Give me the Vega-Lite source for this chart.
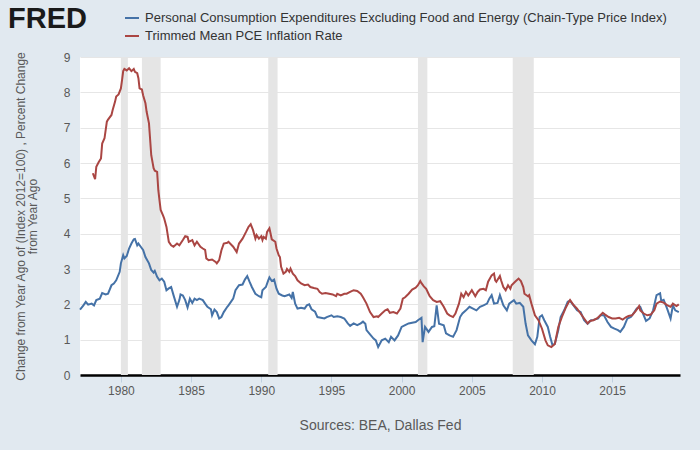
{
"$schema": "https://vega.github.io/schema/vega-lite/v6.json",
"width": 600, "height": 318,
"autosize": {"type": "none"},
"padding": {"left": 80, "top": 57, "right": 20, "bottom": 75},
"background": "#e1e9f0",
"config": {"view": {"fill": "#ffffff", "stroke": null}, "font": "Liberation Sans"},
"title": {"text": "FRED", "anchor": "start", "frame": "group", "orient": "top", "dx": -72, "dy": 74, "offset": 27, "baseline": "alphabetic", "fontSize": 29, "fontWeight": "bold", "font": "Liberation Sans", "color": "#1a1a1a"},
"datasets": {
"rec": [
{"date": "1980-01-01", "end": "1980-07-01"},
{"date": "1981-07-01", "end": "1982-11-01"},
{"date": "1990-07-01", "end": "1991-03-01"},
{"date": "2001-03-01", "end": "2001-11-01"},
{"date": "2007-12-01", "end": "2009-06-01"}
],
"pce": [
{"date":"1977-02-01","series":"core","value":1.85},
{"date":"1977-05-01","series":"core","value":1.97},
{"date":"1977-07-01","series":"core","value":2.07},
{"date":"1977-09-01","series":"core","value":1.99},
{"date":"1977-12-01","series":"core","value":2.02},
{"date":"1978-02-01","series":"core","value":1.97},
{"date":"1978-04-01","series":"core","value":2.12},
{"date":"1978-07-01","series":"core","value":2.16},
{"date":"1978-09-01","series":"core","value":2.32},
{"date":"1978-12-01","series":"core","value":2.28},
{"date":"1979-02-01","series":"core","value":2.30},
{"date":"1979-05-01","series":"core","value":2.54},
{"date":"1979-07-01","series":"core","value":2.59},
{"date":"1979-09-01","series":"core","value":2.68},
{"date":"1979-12-01","series":"core","value":2.92},
{"date":"1980-01-01","series":"core","value":3.16},
{"date":"1980-03-01","series":"core","value":3.39},
{"date":"1980-04-01","series":"core","value":3.30},
{"date":"1980-06-01","series":"core","value":3.37},
{"date":"1980-08-01","series":"core","value":3.58},
{"date":"1980-10-01","series":"core","value":3.72},
{"date":"1980-12-01","series":"core","value":3.84},
{"date":"1981-01-01","series":"core","value":3.85},
{"date":"1981-03-01","series":"core","value":3.67},
{"date":"1981-04-01","series":"core","value":3.72},
{"date":"1981-06-01","series":"core","value":3.63},
{"date":"1981-08-01","series":"core","value":3.54},
{"date":"1981-10-01","series":"core","value":3.34},
{"date":"1982-01-01","series":"core","value":3.16},
{"date":"1982-03-01","series":"core","value":2.97},
{"date":"1982-05-01","series":"core","value":2.90},
{"date":"1982-06-01","series":"core","value":2.95},
{"date":"1982-08-01","series":"core","value":2.78},
{"date":"1982-10-01","series":"core","value":2.68},
{"date":"1982-12-01","series":"core","value":2.73},
{"date":"1983-02-01","series":"core","value":2.64},
{"date":"1983-04-01","series":"core","value":2.40},
{"date":"1983-06-01","series":"core","value":2.45},
{"date":"1983-08-01","series":"core","value":2.49},
{"date":"1983-10-01","series":"core","value":2.26},
{"date":"1984-01-01","series":"core","value":1.93},
{"date":"1984-03-01","series":"core","value":2.12},
{"date":"1984-04-01","series":"core","value":2.28},
{"date":"1984-06-01","series":"core","value":2.25},
{"date":"1984-08-01","series":"core","value":2.12},
{"date":"1984-10-01","series":"core","value":1.91},
{"date":"1984-12-01","series":"core","value":2.16},
{"date":"1985-02-01","series":"core","value":2.04},
{"date":"1985-04-01","series":"core","value":2.16},
{"date":"1985-06-01","series":"core","value":2.12},
{"date":"1985-08-01","series":"core","value":2.16},
{"date":"1985-11-01","series":"core","value":2.12},
{"date":"1986-01-01","series":"core","value":2.02},
{"date":"1986-03-01","series":"core","value":1.93},
{"date":"1986-06-01","series":"core","value":1.86},
{"date":"1986-07-01","series":"core","value":1.69},
{"date":"1986-09-01","series":"core","value":1.85},
{"date":"1986-11-01","series":"core","value":1.78},
{"date":"1987-01-01","series":"core","value":1.60},
{"date":"1987-03-01","series":"core","value":1.64},
{"date":"1987-05-01","series":"core","value":1.78},
{"date":"1987-08-01","series":"core","value":1.93},
{"date":"1987-09-01","series":"core","value":1.97},
{"date":"1988-01-01","series":"core","value":2.16},
{"date":"1988-03-01","series":"core","value":2.40},
{"date":"1988-06-01","series":"core","value":2.54},
{"date":"1988-09-01","series":"core","value":2.56},
{"date":"1988-11-01","series":"core","value":2.70},
{"date":"1989-01-01","series":"core","value":2.80},
{"date":"1989-03-01","series":"core","value":2.64},
{"date":"1989-05-01","series":"core","value":2.49},
{"date":"1989-08-01","series":"core","value":2.30},
{"date":"1989-11-01","series":"core","value":2.23},
{"date":"1990-01-01","series":"core","value":2.20},
{"date":"1990-02-01","series":"core","value":2.40},
{"date":"1990-05-01","series":"core","value":2.49},
{"date":"1990-07-01","series":"core","value":2.68},
{"date":"1990-08-01","series":"core","value":2.76},
{"date":"1990-10-01","series":"core","value":2.66},
{"date":"1990-12-01","series":"core","value":2.70},
{"date":"1991-02-01","series":"core","value":2.44},
{"date":"1991-04-01","series":"core","value":2.30},
{"date":"1991-07-01","series":"core","value":2.25},
{"date":"1991-09-01","series":"core","value":2.23},
{"date":"1992-01-01","series":"core","value":2.28},
{"date":"1992-03-01","series":"core","value":2.18},
{"date":"1992-04-01","series":"core","value":2.35},
{"date":"1992-06-01","series":"core","value":2.02},
{"date":"1992-08-01","series":"core","value":1.88},
{"date":"1992-11-01","series":"core","value":1.90},
{"date":"1993-02-01","series":"core","value":1.88},
{"date":"1993-04-01","series":"core","value":1.97},
{"date":"1993-06-01","series":"core","value":2.00},
{"date":"1993-08-01","series":"core","value":1.86},
{"date":"1993-11-01","series":"core","value":1.79},
{"date":"1994-01-01","series":"core","value":1.64},
{"date":"1994-04-01","series":"core","value":1.62},
{"date":"1994-07-01","series":"core","value":1.60},
{"date":"1994-09-01","series":"core","value":1.64},
{"date":"1995-01-01","series":"core","value":1.69},
{"date":"1995-03-01","series":"core","value":1.64},
{"date":"1995-06-01","series":"core","value":1.66},
{"date":"1995-09-01","series":"core","value":1.64},
{"date":"1995-12-01","series":"core","value":1.60},
{"date":"1996-03-01","series":"core","value":1.46},
{"date":"1996-05-01","series":"core","value":1.39},
{"date":"1996-08-01","series":"core","value":1.46},
{"date":"1996-11-01","series":"core","value":1.41},
{"date":"1997-02-01","series":"core","value":1.46},
{"date":"1997-04-01","series":"core","value":1.51},
{"date":"1997-06-01","series":"core","value":1.45},
{"date":"1997-07-01","series":"core","value":1.27},
{"date":"1997-10-01","series":"core","value":1.15},
{"date":"1998-01-01","series":"core","value":1.03},
{"date":"1998-03-01","series":"core","value":0.98},
{"date":"1998-05-01","series":"core","value":0.79},
{"date":"1998-08-01","series":"core","value":0.98},
{"date":"1998-11-01","series":"core","value":1.03},
{"date":"1999-02-01","series":"core","value":0.93},
{"date":"1999-04-01","series":"core","value":1.08},
{"date":"1999-07-01","series":"core","value":0.98},
{"date":"1999-10-01","series":"core","value":1.12},
{"date":"2000-01-01","series":"core","value":1.36},
{"date":"2000-04-01","series":"core","value":1.41},
{"date":"2000-07-01","series":"core","value":1.46},
{"date":"2000-10-01","series":"core","value":1.48},
{"date":"2001-01-01","series":"core","value":1.50},
{"date":"2001-03-01","series":"core","value":1.55},
{"date":"2001-06-01","series":"core","value":1.62},
{"date":"2001-07-01","series":"core","value":0.93},
{"date":"2001-09-01","series":"core","value":1.36},
{"date":"2001-12-01","series":"core","value":1.22},
{"date":"2002-03-01","series":"core","value":1.36},
{"date":"2002-05-01","series":"core","value":1.38},
{"date":"2002-07-01","series":"core","value":1.97},
{"date":"2002-09-01","series":"core","value":1.45},
{"date":"2003-01-01","series":"core","value":1.41},
{"date":"2003-03-01","series":"core","value":1.18},
{"date":"2003-06-01","series":"core","value":1.12},
{"date":"2003-09-01","series":"core","value":1.08},
{"date":"2003-12-01","series":"core","value":1.27},
{"date":"2004-03-01","series":"core","value":1.64},
{"date":"2004-05-01","series":"core","value":1.74},
{"date":"2004-08-01","series":"core","value":1.83},
{"date":"2004-11-01","series":"core","value":1.93},
{"date":"2005-02-01","series":"core","value":1.88},
{"date":"2005-05-01","series":"core","value":1.83},
{"date":"2005-08-01","series":"core","value":1.93},
{"date":"2005-11-01","series":"core","value":1.97},
{"date":"2006-02-01","series":"core","value":2.02},
{"date":"2006-04-01","series":"core","value":2.16},
{"date":"2006-06-01","series":"core","value":2.26},
{"date":"2006-08-01","series":"core","value":2.02},
{"date":"2006-11-01","series":"core","value":2.04},
{"date":"2007-01-01","series":"core","value":2.26},
{"date":"2007-04-01","series":"core","value":1.97},
{"date":"2007-07-01","series":"core","value":1.83},
{"date":"2007-09-01","series":"core","value":2.02},
{"date":"2008-01-01","series":"core","value":2.12},
{"date":"2008-03-01","series":"core","value":2.02},
{"date":"2008-06-01","series":"core","value":2.04},
{"date":"2008-09-01","series":"core","value":1.93},
{"date":"2008-11-01","series":"core","value":1.45},
{"date":"2009-01-01","series":"core","value":1.12},
{"date":"2009-04-01","series":"core","value":0.98},
{"date":"2009-07-01","series":"core","value":0.87},
{"date":"2009-09-01","series":"core","value":1.08},
{"date":"2009-11-01","series":"core","value":1.64},
{"date":"2010-01-01","series":"core","value":1.69},
{"date":"2010-03-01","series":"core","value":1.55},
{"date":"2010-06-01","series":"core","value":1.36},
{"date":"2010-08-01","series":"core","value":1.08},
{"date":"2010-10-01","series":"core","value":0.84},
{"date":"2010-12-01","series":"core","value":0.88},
{"date":"2011-03-01","series":"core","value":1.27},
{"date":"2011-05-01","series":"core","value":1.64},
{"date":"2011-08-01","series":"core","value":1.83},
{"date":"2011-11-01","series":"core","value":2.07},
{"date":"2012-01-01","series":"core","value":2.10},
{"date":"2012-04-01","series":"core","value":1.97},
{"date":"2012-07-01","series":"core","value":1.83},
{"date":"2012-10-01","series":"core","value":1.78},
{"date":"2013-01-01","series":"core","value":1.55},
{"date":"2013-04-01","series":"core","value":1.45},
{"date":"2013-07-01","series":"core","value":1.55},
{"date":"2013-09-01","series":"core","value":1.56},
{"date":"2014-01-01","series":"core","value":1.60},
{"date":"2014-03-01","series":"core","value":1.69},
{"date":"2014-06-01","series":"core","value":1.69},
{"date":"2014-09-01","series":"core","value":1.50},
{"date":"2014-12-01","series":"core","value":1.36},
{"date":"2015-03-01","series":"core","value":1.31},
{"date":"2015-06-01","series":"core","value":1.27},
{"date":"2015-08-01","series":"core","value":1.22},
{"date":"2015-11-01","series":"core","value":1.36},
{"date":"2016-02-01","series":"core","value":1.60},
{"date":"2016-05-01","series":"core","value":1.64},
{"date":"2016-08-01","series":"core","value":1.78},
{"date":"2016-10-01","series":"core","value":1.88},
{"date":"2017-01-01","series":"core","value":1.93},
{"date":"2017-04-01","series":"core","value":1.69},
{"date":"2017-06-01","series":"core","value":1.53},
{"date":"2017-09-01","series":"core","value":1.60},
{"date":"2017-12-01","series":"core","value":1.83},
{"date":"2018-03-01","series":"core","value":2.26},
{"date":"2018-06-01","series":"core","value":2.31},
{"date":"2018-07-01","series":"core","value":2.10},
{"date":"2018-09-01","series":"core","value":2.13},
{"date":"2018-12-01","series":"core","value":1.88},
{"date":"2019-03-01","series":"core","value":1.60},
{"date":"2019-05-01","series":"core","value":1.97},
{"date":"2019-07-01","series":"core","value":1.83},
{"date":"2019-10-01","series":"core","value":1.78},
{"date":"1978-01-01","series":"trim","value":5.71},
{"date":"1978-03-01","series":"trim","value":5.54},
{"date":"1978-04-01","series":"trim","value":5.89},
{"date":"1978-06-01","series":"trim","value":6.02},
{"date":"1978-08-01","series":"trim","value":6.13},
{"date":"1978-09-01","series":"trim","value":6.55},
{"date":"1978-11-01","series":"trim","value":6.70},
{"date":"1979-01-01","series":"trim","value":7.17},
{"date":"1979-02-01","series":"trim","value":7.23},
{"date":"1979-05-01","series":"trim","value":7.36},
{"date":"1979-06-01","series":"trim","value":7.50},
{"date":"1979-08-01","series":"trim","value":7.73},
{"date":"1979-09-01","series":"trim","value":7.88},
{"date":"1979-11-01","series":"trim","value":7.94},
{"date":"1980-01-01","series":"trim","value":8.11},
{"date":"1980-02-01","series":"trim","value":8.35},
{"date":"1980-03-01","series":"trim","value":8.60},
{"date":"1980-04-01","series":"trim","value":8.66},
{"date":"1980-06-01","series":"trim","value":8.62},
{"date":"1980-08-01","series":"trim","value":8.68},
{"date":"1980-10-01","series":"trim","value":8.60},
{"date":"1980-12-01","series":"trim","value":8.66},
{"date":"1981-01-01","series":"trim","value":8.58},
{"date":"1981-03-01","series":"trim","value":8.54},
{"date":"1981-04-01","series":"trim","value":8.40},
{"date":"1981-05-01","series":"trim","value":8.11},
{"date":"1981-07-01","series":"trim","value":8.08},
{"date":"1981-08-01","series":"trim","value":7.92},
{"date":"1981-10-01","series":"trim","value":7.69},
{"date":"1981-11-01","series":"trim","value":7.45},
{"date":"1982-01-01","series":"trim","value":7.12},
{"date":"1982-02-01","series":"trim","value":6.65},
{"date":"1982-03-01","series":"trim","value":6.22},
{"date":"1982-05-01","series":"trim","value":5.85},
{"date":"1982-06-01","series":"trim","value":5.78},
{"date":"1982-08-01","series":"trim","value":5.75},
{"date":"1982-09-01","series":"trim","value":5.23},
{"date":"1982-10-01","series":"trim","value":4.95},
{"date":"1982-11-01","series":"trim","value":4.67},
{"date":"1983-01-01","series":"trim","value":4.52},
{"date":"1983-02-01","series":"trim","value":4.43},
{"date":"1983-04-01","series":"trim","value":4.19},
{"date":"1983-06-01","series":"trim","value":3.77},
{"date":"1983-08-01","series":"trim","value":3.67},
{"date":"1983-10-01","series":"trim","value":3.63},
{"date":"1984-01-01","series":"trim","value":3.72},
{"date":"1984-03-01","series":"trim","value":3.67},
{"date":"1984-06-01","series":"trim","value":3.82},
{"date":"1984-08-01","series":"trim","value":3.93},
{"date":"1984-10-01","series":"trim","value":3.91},
{"date":"1984-11-01","series":"trim","value":3.77},
{"date":"1985-02-01","series":"trim","value":3.82},
{"date":"1985-04-01","series":"trim","value":3.67},
{"date":"1985-06-01","series":"trim","value":3.77},
{"date":"1985-09-01","series":"trim","value":3.63},
{"date":"1985-11-01","series":"trim","value":3.58},
{"date":"1986-01-01","series":"trim","value":3.54},
{"date":"1986-02-01","series":"trim","value":3.30},
{"date":"1986-04-01","series":"trim","value":3.25},
{"date":"1986-07-01","series":"trim","value":3.27},
{"date":"1986-10-01","series":"trim","value":3.20},
{"date":"1986-11-01","series":"trim","value":3.16},
{"date":"1987-01-01","series":"trim","value":3.25},
{"date":"1987-03-01","series":"trim","value":3.53},
{"date":"1987-05-01","series":"trim","value":3.72},
{"date":"1987-08-01","series":"trim","value":3.74},
{"date":"1987-09-01","series":"trim","value":3.77},
{"date":"1988-01-01","series":"trim","value":3.63},
{"date":"1988-04-01","series":"trim","value":3.48},
{"date":"1988-06-01","series":"trim","value":3.72},
{"date":"1988-09-01","series":"trim","value":3.86},
{"date":"1988-12-01","series":"trim","value":4.05},
{"date":"1989-02-01","series":"trim","value":4.19},
{"date":"1989-04-01","series":"trim","value":4.27},
{"date":"1989-06-01","series":"trim","value":4.10},
{"date":"1989-08-01","series":"trim","value":3.86},
{"date":"1989-09-01","series":"trim","value":3.96},
{"date":"1989-11-01","series":"trim","value":3.86},
{"date":"1990-01-01","series":"trim","value":3.93},
{"date":"1990-02-01","series":"trim","value":3.82},
{"date":"1990-03-01","series":"trim","value":3.91},
{"date":"1990-05-01","series":"trim","value":3.86},
{"date":"1990-06-01","series":"trim","value":4.05},
{"date":"1990-08-01","series":"trim","value":4.15},
{"date":"1990-09-01","series":"trim","value":4.00},
{"date":"1990-10-01","series":"trim","value":3.84},
{"date":"1991-01-01","series":"trim","value":3.77},
{"date":"1991-02-01","series":"trim","value":3.58},
{"date":"1991-04-01","series":"trim","value":3.39},
{"date":"1991-05-01","series":"trim","value":3.34},
{"date":"1991-06-01","series":"trim","value":3.06},
{"date":"1991-08-01","series":"trim","value":2.87},
{"date":"1991-10-01","series":"trim","value":2.92},
{"date":"1991-11-01","series":"trim","value":3.00},
{"date":"1992-01-01","series":"trim","value":2.92},
{"date":"1992-02-01","series":"trim","value":3.01},
{"date":"1992-04-01","series":"trim","value":2.87},
{"date":"1992-06-01","series":"trim","value":2.80},
{"date":"1992-08-01","series":"trim","value":2.68},
{"date":"1992-11-01","series":"trim","value":2.59},
{"date":"1993-02-01","series":"trim","value":2.54},
{"date":"1993-05-01","series":"trim","value":2.56},
{"date":"1993-07-01","series":"trim","value":2.49},
{"date":"1993-10-01","series":"trim","value":2.46},
{"date":"1994-01-01","series":"trim","value":2.44},
{"date":"1994-03-01","series":"trim","value":2.35},
{"date":"1994-05-01","series":"trim","value":2.30},
{"date":"1994-08-01","series":"trim","value":2.32},
{"date":"1994-11-01","series":"trim","value":2.30},
{"date":"1995-02-01","series":"trim","value":2.28},
{"date":"1995-05-01","series":"trim","value":2.23},
{"date":"1995-06-01","series":"trim","value":2.30},
{"date":"1995-09-01","series":"trim","value":2.25},
{"date":"1995-12-01","series":"trim","value":2.30},
{"date":"1996-02-01","series":"trim","value":2.30},
{"date":"1996-05-01","series":"trim","value":2.35},
{"date":"1996-08-01","series":"trim","value":2.40},
{"date":"1996-11-01","series":"trim","value":2.38},
{"date":"1997-02-01","series":"trim","value":2.30},
{"date":"1997-04-01","series":"trim","value":2.20},
{"date":"1997-07-01","series":"trim","value":2.02},
{"date":"1997-10-01","series":"trim","value":1.78},
{"date":"1998-01-01","series":"trim","value":1.64},
{"date":"1998-04-01","series":"trim","value":1.66},
{"date":"1998-05-01","series":"trim","value":1.64},
{"date":"1998-08-01","series":"trim","value":1.74},
{"date":"1998-11-01","series":"trim","value":1.83},
{"date":"1999-01-01","series":"trim","value":1.86},
{"date":"1999-03-01","series":"trim","value":1.76},
{"date":"1999-06-01","series":"trim","value":1.78},
{"date":"1999-09-01","series":"trim","value":1.74},
{"date":"1999-12-01","series":"trim","value":1.88},
{"date":"2000-02-01","series":"trim","value":2.16},
{"date":"2000-04-01","series":"trim","value":2.20},
{"date":"2000-07-01","series":"trim","value":2.30},
{"date":"2000-10-01","series":"trim","value":2.42},
{"date":"2001-01-01","series":"trim","value":2.47},
{"date":"2001-03-01","series":"trim","value":2.54},
{"date":"2001-05-01","series":"trim","value":2.66},
{"date":"2001-06-01","series":"trim","value":2.60},
{"date":"2001-08-01","series":"trim","value":2.51},
{"date":"2001-10-01","series":"trim","value":2.44},
{"date":"2001-12-01","series":"trim","value":2.30},
{"date":"2002-01-01","series":"trim","value":2.23},
{"date":"2002-04-01","series":"trim","value":2.12},
{"date":"2002-07-01","series":"trim","value":2.07},
{"date":"2002-10-01","series":"trim","value":2.09},
{"date":"2003-01-01","series":"trim","value":1.93},
{"date":"2003-04-01","series":"trim","value":1.74},
{"date":"2003-06-01","series":"trim","value":1.69},
{"date":"2003-09-01","series":"trim","value":1.64},
{"date":"2003-11-01","series":"trim","value":1.74},
{"date":"2004-02-01","series":"trim","value":2.02},
{"date":"2004-04-01","series":"trim","value":2.30},
{"date":"2004-06-01","series":"trim","value":2.20},
{"date":"2004-08-01","series":"trim","value":2.35},
{"date":"2004-10-01","series":"trim","value":2.25},
{"date":"2005-01-01","series":"trim","value":2.40},
{"date":"2005-04-01","series":"trim","value":2.23},
{"date":"2005-06-01","series":"trim","value":2.35},
{"date":"2005-08-01","series":"trim","value":2.42},
{"date":"2005-11-01","series":"trim","value":2.44},
{"date":"2006-01-01","series":"trim","value":2.40},
{"date":"2006-03-01","series":"trim","value":2.64},
{"date":"2006-06-01","series":"trim","value":2.82},
{"date":"2006-08-01","series":"trim","value":2.87},
{"date":"2006-09-01","series":"trim","value":2.68},
{"date":"2006-10-01","series":"trim","value":2.64},
{"date":"2007-01-01","series":"trim","value":2.80},
{"date":"2007-02-01","series":"trim","value":2.68},
{"date":"2007-04-01","series":"trim","value":2.49},
{"date":"2007-06-01","series":"trim","value":2.40},
{"date":"2007-08-01","series":"trim","value":2.54},
{"date":"2007-10-01","series":"trim","value":2.44},
{"date":"2007-11-01","series":"trim","value":2.54},
{"date":"2008-02-01","series":"trim","value":2.64},
{"date":"2008-05-01","series":"trim","value":2.73},
{"date":"2008-07-01","series":"trim","value":2.66},
{"date":"2008-09-01","series":"trim","value":2.49},
{"date":"2008-10-01","series":"trim","value":2.30},
{"date":"2009-01-01","series":"trim","value":2.23},
{"date":"2009-02-01","series":"trim","value":2.26},
{"date":"2009-04-01","series":"trim","value":2.02},
{"date":"2009-07-01","series":"trim","value":1.69},
{"date":"2009-10-01","series":"trim","value":1.55},
{"date":"2010-01-01","series":"trim","value":1.31},
{"date":"2010-04-01","series":"trim","value":0.98},
{"date":"2010-06-01","series":"trim","value":0.84},
{"date":"2010-09-01","series":"trim","value":0.79},
{"date":"2010-12-01","series":"trim","value":0.88},
{"date":"2011-03-01","series":"trim","value":1.36},
{"date":"2011-06-01","series":"trim","value":1.64},
{"date":"2011-09-01","series":"trim","value":1.88},
{"date":"2011-12-01","series":"trim","value":2.07},
{"date":"2012-01-01","series":"trim","value":2.12},
{"date":"2012-04-01","series":"trim","value":1.98},
{"date":"2012-07-01","series":"trim","value":1.88},
{"date":"2012-10-01","series":"trim","value":1.74},
{"date":"2013-01-01","series":"trim","value":1.60},
{"date":"2013-04-01","series":"trim","value":1.46},
{"date":"2013-06-01","series":"trim","value":1.53},
{"date":"2013-09-01","series":"trim","value":1.55},
{"date":"2013-12-01","series":"trim","value":1.60},
{"date":"2014-03-01","series":"trim","value":1.69},
{"date":"2014-05-01","series":"trim","value":1.76},
{"date":"2014-07-01","series":"trim","value":1.71},
{"date":"2014-10-01","series":"trim","value":1.64},
{"date":"2015-01-01","series":"trim","value":1.60},
{"date":"2015-04-01","series":"trim","value":1.60},
{"date":"2015-07-01","series":"trim","value":1.62},
{"date":"2015-10-01","series":"trim","value":1.57},
{"date":"2016-01-01","series":"trim","value":1.64},
{"date":"2016-03-01","series":"trim","value":1.67},
{"date":"2016-06-01","series":"trim","value":1.69},
{"date":"2016-09-01","series":"trim","value":1.81},
{"date":"2016-12-01","series":"trim","value":1.95},
{"date":"2017-01-01","series":"trim","value":1.83},
{"date":"2017-04-01","series":"trim","value":1.74},
{"date":"2017-07-01","series":"trim","value":1.69},
{"date":"2017-10-01","series":"trim","value":1.71},
{"date":"2018-01-01","series":"trim","value":1.83},
{"date":"2018-03-01","series":"trim","value":2.02},
{"date":"2018-06-01","series":"trim","value":2.08},
{"date":"2018-09-01","series":"trim","value":2.05},
{"date":"2018-12-01","series":"trim","value":1.98},
{"date":"2019-03-01","series":"trim","value":1.93},
{"date":"2019-05-01","series":"trim","value":2.02},
{"date":"2019-08-01","series":"trim","value":1.95},
{"date":"2019-10-01","series":"trim","value":2.00}
]
},
"encoding": {
"x": {"field": "date", "type": "temporal",
 "scale": {"type": "utc", "domain": [{"year": 1977, "month": 2, "date": 1, "utc": true}, {"year": 2019, "month": 11, "date": 1, "utc": true}]},
 "axis": {"tickCount": {"interval": "year", "step": 5}, "format": "%Y", "grid": false, "domainColor": "#000000", "domainWidth": 2.5, "tickColor": "#c0d0e0", "tickSize": 7, "labelColor": "#595959", "labelFontSize": 12, "labelPadding": 3, "labelFlush": false, "title": "Sources: BEA, Dallas Fed", "titleFontSize": 14, "titleFontWeight": "normal", "titleColor": "#595959", "titlePadding": 22}}
},
"layer": [
{"data": {"name": "rec"}, "mark": {"type": "rect", "color": "#e5e5e5"}, "encoding": {"x2": {"field": "end"}}},
{"data": {"name": "pce"}, "mark": {"type": "line", "strokeWidth": 2},
 "encoding": {
  "y": {"field": "value", "type": "quantitative", "scale": {"domain": [0, 9], "nice": false},
   "axis": {"values": [0,1,2,3,4,5,6,7,8,9], "grid": true, "gridColor": "#e6e6e6", "ticks": false, "domain": false, "labelColor": "#595959", "labelFontSize": 12, "labelPadding": 10,
    "title": ["Change from Year Ago of (Index 2012=100) , Percent Change", "from Year Ago"], "titleFontSize": 12, "titleFontWeight": "normal", "titleColor": "#595959", "titlePadding": 24, "titleLineHeight": 12}},
  "color": {"field": "series", "type": "nominal", "scale": {"domain": ["core", "trim"], "range": ["#4572a7", "#aa4643"]},
   "legend": {"orient": "none", "legendX": 44, "legendY": -47, "title": null, "symbolType": "stroke", "symbolSize": 196, "symbolStrokeWidth": 2, "labelFontSize": 13, "labelColor": "#333333", "labelFont": "Liberation Sans", "labelLimit": 0, "rowPadding": 3, "labelOffset": 5,
    "labelExpr": "datum.label == 'core' ? 'Personal Consumption Expenditures Excluding Food and Energy (Chain-Type Price Index)' : 'Trimmed Mean PCE Inflation Rate'"}}
 }}
]
}
